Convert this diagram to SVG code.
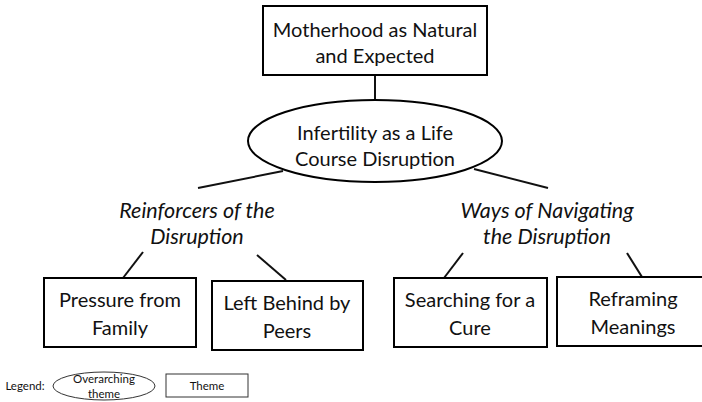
<svg xmlns="http://www.w3.org/2000/svg" width="702" height="402" viewBox="0 0 702 402">
<style>
.box{fill:#fff;stroke:#000;stroke-width:2}
.lg{fill:#fff;stroke:#333;stroke-width:1}
.ln{stroke:#111;stroke-width:2;fill:none}
text{font-family:Lato,"Open Sans",sans-serif;fill:#111;text-anchor:middle}
.t{font-size:20px}
.i{font-size:21.5px;font-style:italic}
.s{font-size:11.5px}
</style>
<rect width="702" height="402" fill="#fff"/>
<g id="connectors">
<line class="ln" x1="375" y1="75" x2="375" y2="100"/>
<line class="ln" x1="283" y1="171" x2="198" y2="188"/>
<line class="ln" x1="474" y1="169" x2="548" y2="188"/>
<line class="ln" x1="143" y1="252" x2="123" y2="278"/>
<line class="ln" x1="257" y1="255" x2="286" y2="280"/>
<line class="ln" x1="463" y1="253" x2="444" y2="278"/>
<line class="ln" x1="627" y1="253" x2="642" y2="277"/>
</g>
<g id="n-motherhood">
<rect class="box" x="263" y="6" width="224" height="69"/>
<text class="t" x="375" y="37">Motherhood as Natural</text>
<text class="t" x="375" y="63">and Expected</text>
</g>
<g id="n-infertility">
<ellipse class="box" cx="375" cy="141" rx="127" ry="41"/>
<text class="t" x="375" y="140">Infertility as a Life</text>
<text class="t" x="375" y="166">Course Disruption</text>
</g>
<g id="n-reinforcers">
<text class="i" x="197" y="218">Reinforcers of the</text>
<text class="i" x="197" y="244">Disruption</text>
</g>
<g id="n-ways">
<text class="i" x="547" y="218">Ways of Navigating</text>
<text class="i" x="547" y="244">the Disruption</text>
</g>
<g id="n-pressure">
<rect class="box" x="44" y="278" width="152" height="69"/>
<text class="t" x="120" y="307">Pressure from</text>
<text class="t" x="120" y="335">Family</text>
</g>
<g id="n-left">
<rect class="box" x="212" y="281" width="151" height="69"/>
<text class="t" x="287" y="310">Left Behind by</text>
<text class="t" x="287" y="338">Peers</text>
</g>
<g id="n-searching">
<rect class="box" x="394" y="278" width="153" height="69"/>
<text class="t" x="470" y="307">Searching for a</text>
<text class="t" x="470" y="335">Cure</text>
</g>
<g id="n-reframing">
<rect class="box" x="557" y="277" width="152" height="69"/>
<text class="t" x="633" y="306">Reframing</text>
<text class="t" x="633" y="334">Meanings</text>
</g>
<g id="legend">
<text class="s" x="25" y="390">Legend:</text>
<ellipse class="lg" cx="104" cy="386" rx="51" ry="14"/>
<text class="s" x="104" y="383">Overarching</text>
<text class="s" x="104" y="398">theme</text>
<rect class="lg" x="166" y="374" width="82" height="23"/>
<text class="s" x="207" y="390">Theme</text>
</g>
</svg>
